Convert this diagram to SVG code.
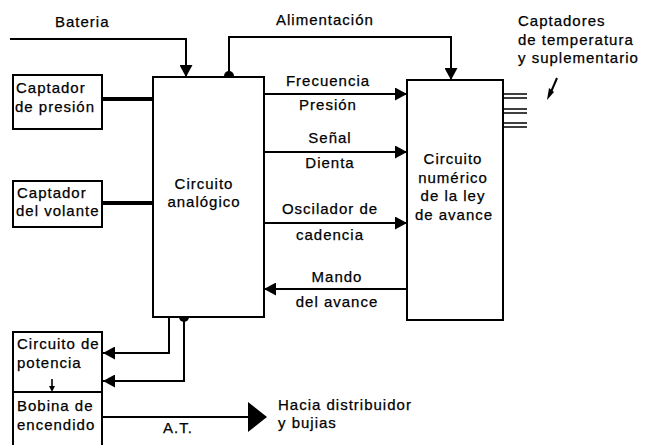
<svg xmlns="http://www.w3.org/2000/svg" width="648" height="445" viewBox="0 0 648 445">
<defs>
<style>
.box{fill:#fff;stroke:#000;stroke-width:2}
.ln{fill:none;stroke:#000;stroke-width:2}
.thick{fill:none;stroke:#000;stroke-width:4}
.thin{fill:none;stroke:#000;stroke-width:1.6}
text{font-family:"Liberation Sans",Arial,sans-serif;font-size:15px;letter-spacing:1px;fill:#000;stroke:#000;stroke-width:0.25}
.c{text-anchor:middle}
</style>
<marker id="ah" markerUnits="userSpaceOnUse" markerWidth="13" markerHeight="13" refX="12" refY="6.5" orient="auto">
<path d="M0,0 L12,6.5 L0,13 z" fill="#000"/>
</marker>
</defs>
<rect width="648" height="445" fill="#fff"/>

<g id="connectors">
<path class="ln" d="M10,39 H186 V77" marker-end="url(#ah)"/>
<path class="ln" d="M229,76 V37 H451 V80" marker-end="url(#ah)"/>
<circle cx="229" cy="76" r="5" fill="#000"/>
<path class="thick" d="M102,99 H153"/>
<path class="thick" d="M102,203 H153"/>
<path class="ln" d="M264,94 H407" marker-end="url(#ah)"/>
<path class="ln" d="M264,152 H407" marker-end="url(#ah)"/>
<path class="ln" d="M264,223 H407" marker-end="url(#ah)"/>
<path class="ln" d="M407,289 H264" marker-end="url(#ah)"/>
<path class="ln" d="M169,317 V353 H103" marker-end="url(#ah)"/>
<path class="ln" d="M184,317 V381 H103" marker-end="url(#ah)"/>
<circle cx="184" cy="317" r="5" fill="#000"/>
<path class="ln" d="M102,417 H250"/>
<polygon points="248,402 267,417 248,432" fill="#000"/>
<path class="thin" d="M503,94 H527 M503,98 H527 M503,109 H527 M503,113 H527 M503,123 H527 M503,127 H527"/>
<path class="ln" d="M557,78 L551,92"/>
<polygon points="549,88 554,92 547,100" fill="#000"/>
</g>

<g id="bateria-label"><text x="55" y="27">Bateria</text></g>
<g id="alimentacion-label"><text x="276" y="25">Alimentación</text></g>
<g id="captadores-temp">
<text x="518" y="26">Captadores</text>
<text x="518" y="45">de temperatura</text>
<text x="518" y="63">y suplementario</text>
</g>

<g id="captador-presion">
<rect class="box" x="13" y="75" width="89" height="54"/>
<text x="16" y="93">Captador</text>
<text x="15" y="112">de presión</text>
</g>

<g id="captador-volante">
<rect class="box" x="13" y="181" width="89" height="46"/>
<text x="17" y="198">Captador</text>
<text x="16" y="216">del volante</text>
</g>

<g id="circuito-analogico">
<rect class="box" x="153" y="77" width="111" height="240"/>
<text class="c" x="204" y="189">Circuito</text>
<text class="c" x="204" y="207">analógico</text>
</g>

<g id="circuito-numerico">
<rect class="box" x="407" y="80" width="96" height="240"/>
<text class="c" x="453" y="164">Circuito</text>
<text class="c" x="453" y="183">numérico</text>
<text class="c" x="453" y="201">de la ley</text>
<text class="c" x="454" y="220">de avance</text>
</g>

<g id="labels-signals">
<text class="c" x="328" y="86">Frecuencia</text>
<text class="c" x="328" y="110">Presión</text>
<text class="c" x="330" y="143">Señal</text>
<text class="c" x="330" y="168">Dienta</text>
<text class="c" x="330" y="214">Oscilador de</text>
<text class="c" x="330" y="240">cadencia</text>
<text class="c" x="337" y="282">Mando</text>
<text class="c" x="337" y="307">del avance</text>
</g>

<g id="circuito-potencia">
<rect class="box" x="13" y="332" width="89" height="120"/>
<path class="ln" d="M13,392 H102"/>
<text x="17" y="349">Circuito de</text>
<text x="17" y="368">potencia</text>
<path class="thin" d="M52,379 V389"/>
<polygon points="49,386 55,386 52,392" fill="#000"/>
<text x="17" y="411">Bobina de</text>
<text x="17" y="430">encendido</text>
</g>

<g id="at-label"><text class="c" x="178" y="433">A.T.</text></g>
<g id="hacia-label">
<text x="278" y="410">Hacia distribuidor</text>
<text x="278" y="428">y bujias</text>
</g>
</svg>
